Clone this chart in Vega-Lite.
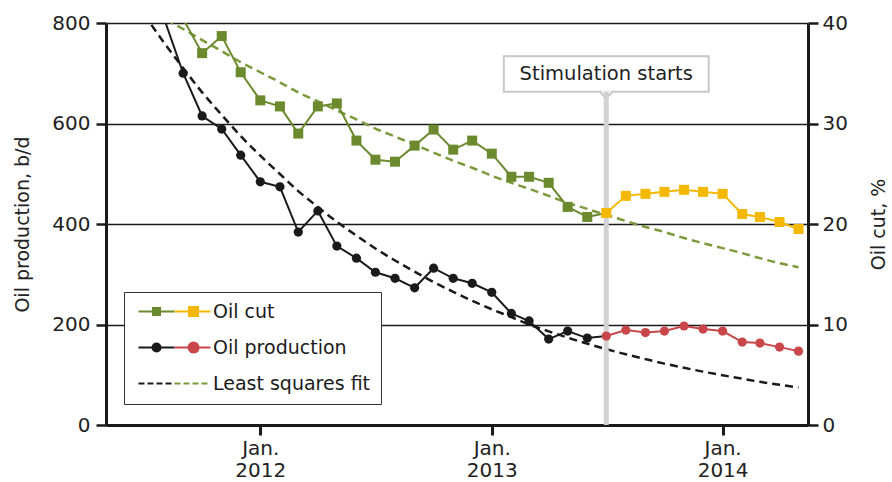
{
  "$schema": "https://vega.github.io/schema/vega-lite/v6.json",
  "width": 702,
  "height": 402,
  "autosize": {"type": "none"},
  "padding": {"left": 106, "top": 23, "right": 84, "bottom": 57},
  "background": "white",
  "config": {
    "font": "DejaVu Sans",
    "view": {"stroke": null},
    "axis": {"domainColor": "#1a1a1a", "tickColor": "#1a1a1a", "labelColor": "#222222", "titleColor": "#222222", "labelFont": "DejaVu Sans", "titleFont": "DejaVu Sans", "titleFontWeight": "normal"}
  },
  "datasets": {
    "series": [
      {"date": "2011-08-01", "production": 812, "cut": null},
      {"date": "2011-09-01", "production": 700, "cut": 40.4},
      {"date": "2011-10-01", "production": 615, "cut": 37.0},
      {"date": "2011-11-01", "production": 589, "cut": 38.7},
      {"date": "2011-12-01", "production": 537, "cut": 35.1},
      {"date": "2012-01-01", "production": 484, "cut": 32.3},
      {"date": "2012-02-01", "production": 474, "cut": 31.7},
      {"date": "2012-03-01", "production": 384, "cut": 29.0},
      {"date": "2012-04-01", "production": 426, "cut": 31.7},
      {"date": "2012-05-01", "production": 356, "cut": 32.0},
      {"date": "2012-06-01", "production": 332, "cut": 28.3},
      {"date": "2012-07-01", "production": 304, "cut": 26.4},
      {"date": "2012-08-01", "production": 292, "cut": 26.2},
      {"date": "2012-09-01", "production": 273, "cut": 27.8},
      {"date": "2012-10-01", "production": 312, "cut": 29.4},
      {"date": "2012-11-01", "production": 292, "cut": 27.4},
      {"date": "2012-12-01", "production": 282, "cut": 28.3},
      {"date": "2013-01-01", "production": 264, "cut": 27.0},
      {"date": "2013-02-01", "production": 222, "cut": 24.7},
      {"date": "2013-03-01", "production": 207, "cut": 24.7},
      {"date": "2013-04-01", "production": 171, "cut": 24.1},
      {"date": "2013-05-01", "production": 187, "cut": 21.7},
      {"date": "2013-06-01", "production": 173, "cut": 20.7},
      {"date": "2013-07-01", "production": 177, "cut": 21.1},
      {"date": "2013-08-01", "production": 189, "cut": 22.8},
      {"date": "2013-09-01", "production": 184, "cut": 23.0},
      {"date": "2013-10-01", "production": 187, "cut": 23.2},
      {"date": "2013-11-01", "production": 197, "cut": 23.4},
      {"date": "2013-12-01", "production": 191, "cut": 23.2},
      {"date": "2014-01-01", "production": 187, "cut": 23.0},
      {"date": "2014-02-01", "production": 165, "cut": 21.0},
      {"date": "2014-03-01", "production": 163, "cut": 20.7},
      {"date": "2014-04-01", "production": 155, "cut": 20.2},
      {"date": "2014-05-01", "production": 147, "cut": 19.5}
    ],
    "fit": [
      {"date": "2011-07-01", "prodFit": 817.7, "cutFit": 41.7},
      {"date": "2011-08-01", "prodFit": 762.1, "cutFit": 40.5},
      {"date": "2011-09-01", "prodFit": 710.3, "cutFit": 39.4},
      {"date": "2011-10-01", "prodFit": 662.0, "cutFit": 38.3},
      {"date": "2011-11-01", "prodFit": 617.0, "cutFit": 37.2},
      {"date": "2011-12-01", "prodFit": 575.0, "cutFit": 36.1},
      {"date": "2012-01-01", "prodFit": 535.9, "cutFit": 35.1},
      {"date": "2012-02-01", "prodFit": 499.5, "cutFit": 34.1},
      {"date": "2012-03-01", "prodFit": 465.5, "cutFit": 33.1},
      {"date": "2012-04-01", "prodFit": 433.9, "cutFit": 32.2},
      {"date": "2012-05-01", "prodFit": 404.4, "cutFit": 31.3},
      {"date": "2012-06-01", "prodFit": 376.9, "cutFit": 30.4},
      {"date": "2012-07-01", "prodFit": 351.3, "cutFit": 29.5},
      {"date": "2012-08-01", "prodFit": 327.4, "cutFit": 28.7},
      {"date": "2012-09-01", "prodFit": 305.2, "cutFit": 27.9},
      {"date": "2012-10-01", "prodFit": 284.4, "cutFit": 27.1},
      {"date": "2012-11-01", "prodFit": 265.1, "cutFit": 26.3},
      {"date": "2012-12-01", "prodFit": 247.1, "cutFit": 25.6},
      {"date": "2013-01-01", "prodFit": 230.3, "cutFit": 24.8},
      {"date": "2013-02-01", "prodFit": 214.6, "cutFit": 24.1},
      {"date": "2013-03-01", "prodFit": 200.0, "cutFit": 23.5},
      {"date": "2013-04-01", "prodFit": 186.4, "cutFit": 22.8},
      {"date": "2013-05-01", "prodFit": 173.8, "cutFit": 22.1},
      {"date": "2013-06-01", "prodFit": 161.9, "cutFit": 21.5},
      {"date": "2013-07-01", "prodFit": 150.9, "cutFit": 20.9},
      {"date": "2013-08-01", "prodFit": 140.7, "cutFit": 20.3},
      {"date": "2013-09-01", "prodFit": 131.1, "cutFit": 19.7},
      {"date": "2013-10-01", "prodFit": 122.2, "cutFit": 19.2},
      {"date": "2013-11-01", "prodFit": 113.9, "cutFit": 18.6},
      {"date": "2013-12-01", "prodFit": 106.2, "cutFit": 18.1},
      {"date": "2014-01-01", "prodFit": 98.9, "cutFit": 17.6},
      {"date": "2014-02-01", "prodFit": 92.2, "cutFit": 17.1},
      {"date": "2014-03-01", "prodFit": 85.9, "cutFit": 16.6},
      {"date": "2014-04-01", "prodFit": 80.1, "cutFit": 16.1},
      {"date": "2014-05-01", "prodFit": 74.7, "cutFit": 15.7}
    ],
    "events": [{"date": "2013-07-01", "event": "Stimulation starts"}],
    "legendA": [{"label": "Oil cut"}, {"label": "Oil production"}, {"label": "Least squares fit"}],
    "legendB": [{"key": "cut"}, {"key": "production"}, {"key": "fit"}]
  },
  "encoding": {
    "x": {
      "field": "date",
      "type": "temporal",
      "scale": {"type": "utc", "domain": [{"year": 2011, "month": 5, "date": 2, "utc": true}, {"year": 2014, "month": 5, "date": 16, "utc": true}]},
      "axis": {
        "values": [{"year": 2012, "month": 1, "date": 1, "utc": true}, {"year": 2013, "month": 1, "date": 1, "utc": true}, {"year": 2014, "month": 1, "date": 1, "utc": true}],
        "grid": false, "domainWidth": 3, "tickWidth": 3, "tickSize": 10, "labelPadding": 3, "labelFontSize": 20,
        "labelExpr": "['Jan.', utcFormat(datum.value, '%Y')]", "labelLineHeight": 22, "labelBaseline": "top",
        "labelFlush": false, "labelOverlap": false, "title": null
      }
    }
  },
  "layer": [
    {
      "layer": [
        {
          "data": {"name": "fit"},
          "mark": {"type": "line", "color": "#1a1a1a", "strokeWidth": 2.5, "strokeDash": [8, 5], "clip": true, "interpolate": "monotone"},
          "encoding": {
            "y": {
              "field": "prodFit", "type": "quantitative", "title": "Oil production, b/d", "scale": {"domain": [0, 800]},
              "axis": {"orient": "left", "values": [0, 200, 400, 600, 800], "grid": true, "gridColor": "#1a1a1a", "gridWidth": 1.3,
                "domainWidth": 3, "tickWidth": 2.5, "tickSize": 10, "labelPadding": 6, "labelFontSize": 20, "titleFontSize": 19,
                "titleAngle": 270, "titleX": -84, "titleY": 201, "titleAlign": "center", "titleBaseline": "middle"}
            }
          }
        },
        {
          "data": {"name": "events"},
          "mark": {"type": "rect", "fill": "white", "stroke": "#c8c8c8", "strokeWidth": 2},
          "encoding": {
            "x": {"datum": {"year": 2013, "month": 1, "date": 20, "utc": true}, "type": "temporal"},
            "x2": {"datum": {"year": 2013, "month": 12, "date": 10, "utc": true}},
            "y": {"datum": 734, "type": "quantitative"},
            "y2": {"datum": 663}
          }
        },
        {
          "data": {"name": "events"},
          "mark": {"type": "point", "shape": "M-1,-0.6L0,0.45L1,-0.6", "size": 196, "filled": true, "fill": "white", "stroke": "#c8c8c8", "strokeWidth": 2, "opacity": 1},
          "encoding": {"y": {"datum": 656, "type": "quantitative"}}
        },
        {
          "data": {"name": "events"},
          "mark": {"type": "rule", "color": "#d2d2d2", "strokeWidth": 5},
          "encoding": {"y": {"datum": 0, "type": "quantitative"}, "y2": {"datum": 663}}
        },
        {
          "data": {"name": "events"},
          "mark": {"type": "text", "fontSize": 19.5, "color": "#222222", "align": "center", "baseline": "middle", "font": "DejaVu Sans"},
          "encoding": {"y": {"datum": 698, "type": "quantitative"}, "text": {"field": "event"}}
        },
        {
          "data": {"name": "series"},
          "transform": [{"filter": {"field": "date", "lte": {"year": 2013, "month": 7, "date": 1, "utc": true}}}],
          "mark": {"type": "line", "color": "#1a1a1a", "strokeWidth": 2, "clip": true},
          "encoding": {"y": {"field": "production", "type": "quantitative", "title": "Oil production, b/d"}}
        },
        {
          "data": {"name": "series"},
          "transform": [{"filter": {"field": "date", "gte": {"year": 2013, "month": 7, "date": 1, "utc": true}}}],
          "mark": {"type": "line", "color": "#c9474a", "strokeWidth": 2, "clip": true},
          "encoding": {"y": {"field": "production", "type": "quantitative", "title": "Oil production, b/d"}}
        },
        {
          "data": {"name": "series"},
          "transform": [{"filter": {"field": "date", "range": [{"year": 2011, "month": 9, "date": 1, "utc": true}, {"year": 2013, "month": 6, "date": 1, "utc": true}]}}],
          "mark": {"type": "point", "shape": "circle", "filled": true, "size": 85, "color": "#1a1a1a", "opacity": 1},
          "encoding": {"y": {"field": "production", "type": "quantitative", "title": "Oil production, b/d"}}
        },
        {
          "data": {"name": "series"},
          "transform": [{"filter": {"field": "date", "gte": {"year": 2013, "month": 7, "date": 1, "utc": true}}}],
          "mark": {"type": "point", "shape": "circle", "filled": true, "size": 85, "color": "#c9474a", "opacity": 1},
          "encoding": {"y": {"field": "production", "type": "quantitative", "title": "Oil production, b/d"}}
        }
      ]
    },
    {
      "layer": [
        {
          "data": {"name": "fit"},
          "mark": {"type": "line", "color": "#7a9a3c", "strokeWidth": 2.5, "strokeDash": [8, 5], "clip": true, "interpolate": "monotone"},
          "encoding": {
            "y": {
              "field": "cutFit", "type": "quantitative", "title": "Oil cut, %", "scale": {"domain": [0, 40]},
              "axis": {"orient": "right", "values": [0, 10, 20, 30, 40], "grid": false, "domainWidth": 3, "tickWidth": 2.5, "tickSize": 10,
                "labelPadding": 4, "labelFontSize": 20, "titleFontSize": 19, "titleAngle": 270, "titleX": 70, "titleY": 201,
                "titleAlign": "center", "titleBaseline": "middle"}
            }
          }
        },
        {
          "data": {"name": "series"},
          "transform": [{"filter": {"field": "date", "range": [{"year": 2011, "month": 9, "date": 1, "utc": true}, {"year": 2013, "month": 7, "date": 1, "utc": true}]}}],
          "mark": {"type": "line", "color": "#6b8a2e", "strokeWidth": 2, "clip": true},
          "encoding": {"y": {"field": "cut", "type": "quantitative", "title": "Oil cut, %"}}
        },
        {
          "data": {"name": "series"},
          "transform": [{"filter": {"field": "date", "gte": {"year": 2013, "month": 7, "date": 1, "utc": true}}}],
          "mark": {"type": "line", "color": "#f5b800", "strokeWidth": 2, "clip": true},
          "encoding": {"y": {"field": "cut", "type": "quantitative", "title": "Oil cut, %"}}
        },
        {
          "data": {"name": "series"},
          "transform": [{"filter": {"field": "date", "range": [{"year": 2011, "month": 10, "date": 1, "utc": true}, {"year": 2013, "month": 6, "date": 1, "utc": true}]}}],
          "mark": {"type": "point", "shape": "square", "filled": true, "size": 100, "color": "#6b8a2e", "opacity": 1},
          "encoding": {"y": {"field": "cut", "type": "quantitative", "title": "Oil cut, %"}}
        },
        {
          "data": {"name": "series"},
          "transform": [{"filter": {"field": "date", "gte": {"year": 2013, "month": 7, "date": 1, "utc": true}}}],
          "mark": {"type": "point", "shape": "square", "filled": true, "size": 100, "color": "#f5b800", "opacity": 1},
          "encoding": {"y": {"field": "cut", "type": "quantitative", "title": "Oil cut, %"}}
        }
      ]
    },
    {
      "data": {"name": "legendA"},
      "mark": {"type": "point", "opacity": 0},
      "encoding": {
        "stroke": {
          "field": "label", "type": "nominal",
          "scale": {"domain": ["Oil cut", "Oil production", "Least squares fit"], "range": ["#6b8a2e", "#1a1a1a", "#1a1a1a"]},
          "legend": {
            "orient": "none", "legendX": 18, "legendY": 269, "direction": "vertical", "title": null,
            "padding": 10, "strokeColor": "#333333", "fillColor": "white",
            "rowPadding": 16, "symbolSize": 100, "symbolOffset": 31, "labelOffset": 29, "symbolStrokeWidth": 2, "symbolOpacity": 1,
            "symbolType": {"expr": "datum.value === 'Oil cut' ? 'M-7.2,0H0M-4.3,-0.7H-2.9V0.7H-4.3ZM-3.9,-0.3H-3.3V0.3H-3.9Z' : datum.value === 'Oil production' ? 'M-7.2,0H0M-2.8,0A0.8,0.8 0 1,0 -4.4,0A0.8,0.8 0 1,0 -2.8,0ZM-3.2,0A0.4,0.4 0 1,0 -4,0A0.4,0.4 0 1,0 -3.2,0Z' : 'M-7.2,0H0'"},
            "symbolDash": {"expr": "datum.value === 'Least squares fit' ? [6, 3] : [10, 0]"},
            "labelFont": "DejaVu Sans", "labelFontSize": 19, "labelColor": "#1a1a1a", "labelLimit": 400, "zindex": 1
          }
        }
      }
    },
    {
      "data": {"name": "legendB"},
      "mark": {"type": "point", "opacity": 0},
      "encoding": {
        "fill": {
          "field": "key", "type": "nominal",
          "scale": {"domain": ["cut", "production", "fit"], "range": ["#f5b800", "#c9474a", "#7a9a3c"]},
          "legend": {
            "orient": "none", "legendX": 18, "legendY": 269, "direction": "vertical", "title": null,
            "padding": 10,
            "rowPadding": 16, "symbolSize": 100, "symbolOffset": 31, "labelOffset": 29, "symbolStrokeWidth": 2, "symbolOpacity": 1,
            "symbolType": {"expr": "datum.value === 'cut' ? 'M0,0H7.2M2.9,-0.9H4.7V0.9H2.9Z' : datum.value === 'production' ? 'M0,0H7.2M4.8,0A1,1 0 1,0 2.8,0A1,1 0 1,0 4.8,0Z' : 'M0,0H7.2'"},
            "symbolStrokeColor": {"expr": "datum.value === 'cut' ? '#f5b800' : datum.value === 'production' ? '#c9474a' : '#7a9a3c'"},
            "symbolDash": {"expr": "datum.value === 'fit' ? [6, 3] : [10, 0]"},
            "labelExpr": "' '",
            "labelFont": "DejaVu Sans", "labelFontSize": 19, "labelOpacity": 0, "labelLimit": 400, "zindex": 2
          }
        }
      }
    }
  ],
  "resolve": {"scale": {"y": "independent"}}
}
